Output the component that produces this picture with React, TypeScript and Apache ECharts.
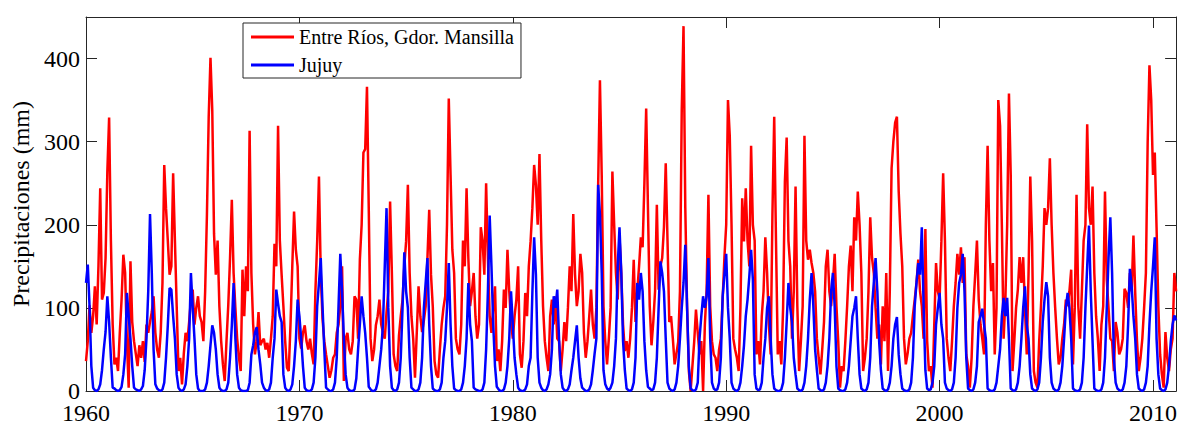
import React, { useEffect, useRef } from "react";
import * as echarts from "echarts";

const startYear = 1960;
const seriesNames = ["Entre Ríos, Gdor. Mansilla", "Jujuy"];
const xTickYears = [1960, 1970, 1980, 1990, 2000, 2010];
const yTickValues = [0, 100, 200, 300, 400];

// Entre Ríos, Gdor. Mansilla — monthly precipitation (mm), Jan..Dec per row
const entreRios1960s = [
  36, 60, 103, 70, 90, 126, 80, 150, 244, 110, 118, 160,
  264, 329, 181, 80, 32, 40, 24, 70, 110, 164, 142, 60,
  4, 156, 83, 60, 45, 30, 55, 40, 60, 35, 80, 70,
  83, 95, 114, 70, 50, 40, 70, 130, 272, 220, 181, 140,
  150, 262, 181, 102, 24, 40, 8, 45, 70, 60, 83, 110,
  122, 80, 100, 114, 90, 83, 60, 120, 212, 330, 401, 338,
  189, 140, 181, 102, 60, 32, 12, 60, 103, 160, 230, 142,
  100, 63, 40, 24, 146, 90, 150, 120, 313, 142, 80, 44,
  60, 95, 55, 60, 63, 50, 58, 40, 63, 90, 177, 150,
  319, 181, 140, 102, 60, 28, 24, 80, 150, 216, 170, 150,
];
const entreRios1970s = [
  63, 51, 70, 79, 60, 50, 63, 45, 32, 120, 180, 258,
  142, 87, 60, 44, 30, 16, 25, 40, 44, 70, 80, 102,
  150, 12, 63, 70, 50, 44, 60, 114, 110, 63, 158, 200,
  287, 291, 366, 220, 63, 36, 50, 79, 90, 110, 80, 70,
  63, 95, 120, 228, 142, 44, 30, 24, 67, 90, 110, 150,
  180, 248, 142, 90, 63, 16, 70, 126, 90, 71, 85, 102,
  160, 218, 140, 102, 36, 20, 16, 50, 80, 100, 114, 200,
  352, 260, 170, 142, 63, 50, 44, 80, 181, 150, 244, 160,
  102, 120, 142, 90, 63, 80, 197, 181, 140, 250, 160, 90,
  70, 100, 126, 36, 50, 24, 60, 122, 100, 170, 120, 83,
];
const entreRios1980s = [
  63, 90, 110, 150, 44, 28, 60, 118, 90, 150, 180, 220,
  272, 248, 200, 285, 181, 102, 60, 40, 24, 90, 110, 80,
  114, 63, 60, 24, 50, 83, 60, 100, 150, 120, 213, 140,
  102, 120, 165, 142, 70, 40, 60, 90, 122, 80, 63, 100,
  248, 374, 260, 102, 60, 32, 63, 100, 264, 200, 142, 110,
  185, 142, 80, 48, 60, 40, 63, 100, 158, 83, 120, 150,
  185, 173, 250, 340, 220, 102, 55, 83, 120, 224, 122, 150,
  160, 197, 274, 181, 83, 90, 63, 32, 45, 59, 120, 338,
  439, 220, 102, 24, 0, 30, 59, 98, 70, 44, 60, 0,
  80, 122, 236, 102, 60, 44, 40, 24, 50, 63, 110, 161,
];
const entreRios1990s = [
  200, 350, 307, 200, 63, 50, 40, 24, 100, 232, 180, 244,
  181, 150, 295, 200, 181, 44, 60, 32, 90, 120, 185, 142,
  80, 44, 213, 330, 181, 44, 60, 32, 100, 252, 305, 181,
  150, 63, 120, 246, 102, 24, 60, 102, 307, 181, 158, 170,
  154, 142, 120, 63, 40, 20, 50, 83, 150, 170, 120, 102,
  130, 165, 102, 60, 4, 30, 24, 60, 102, 150, 175, 120,
  209, 181, 240, 200, 142, 24, 40, 63, 120, 209, 160, 142,
  100, 63, 80, 32, 102, 60, 142, 24, 122, 268, 300, 323,
  330, 240, 189, 150, 63, 32, 45, 63, 70, 91, 110, 130,
  158, 120, 102, 63, 195, 60, 24, 30, 4, 80, 154, 120,
];
const entreRios2000s = [
  110, 180, 262, 181, 63, 40, 24, 60, 102, 130, 165, 140,
  173, 130, 161, 44, 30, 4, 40, 102, 140, 181, 110, 80,
  63, 44, 200, 295, 181, 120, 154, 44, 100, 350, 319, 200,
  63, 110, 200, 358, 260, 24, 60, 100, 122, 161, 130, 161,
  100, 44, 140, 258, 181, 24, 10, 4, 60, 102, 150, 220,
  200, 220, 280, 200, 142, 100, 63, 32, 40, 63, 80, 110,
  102, 120, 146, 32, 100, 236, 102, 63, 120, 181, 200, 321,
  220, 200, 246, 142, 90, 63, 24, 80, 102, 240, 134, 100,
  63, 60, 24, 83, 70, 44, 50, 63, 123, 118, 100, 142,
  120, 187, 118, 60, 24, 40, 63, 100, 142, 299, 392, 350,
];
const entreRios2010s = [
  260, 287, 197, 102, 44, 20, 4, 71, 40, 24, 50, 63,
  142, 120,
];

// Jujuy — monthly precipitation (mm), Jan..Dec per row
const jujuy1960s = [
  130, 152, 102, 30, 4, 1, 0, 2, 8, 25, 50, 71,
  114, 83, 40, 4, 3, 1, 0, 1, 5, 20, 44, 118,
  90, 63, 30, 4, 2, 1, 0, 2, 6, 25, 63, 120,
  213, 142, 50, 8, 3, 1, 0, 2, 10, 40, 79, 124,
  122, 90, 63, 20, 4, 1, 0, 2, 8, 30, 63, 142,
  100, 63, 20, 3, 0, 0, 0, 2, 10, 30, 55, 79,
  70, 50, 20, 4, 1, 0, 0, 2, 10, 40, 79, 130,
  63, 20, 4, 1, 0, 0, 0, 1, 10, 44, 55, 70,
  77, 50, 32, 10, 4, 1, 0, 2, 10, 40, 63, 122,
  105, 90, 83, 20, 4, 1, 0, 2, 8, 30, 60, 110,
];
const jujuy1970s = [
  90, 63, 30, 4, 1, 0, 0, 2, 10, 40, 102, 130,
  160, 102, 50, 4, 2, 0, 0, 2, 10, 40, 102, 165,
  120, 63, 20, 4, 1, 0, 0, 2, 15, 50, 80, 114,
  90, 70, 40, 5, 2, 0, 0, 2, 10, 30, 50, 80,
  150, 220, 100, 30, 4, 1, 0, 2, 10, 40, 100, 167,
  120, 100, 40, 4, 2, 0, 0, 2, 10, 40, 100, 130,
  160, 80, 30, 3, 1, 0, 0, 2, 10, 40, 60, 100,
  154, 80, 30, 3, 1, 0, 0, 2, 10, 30, 63, 130,
  80, 60, 4, 2, 1, 0, 0, 2, 10, 50, 120, 211,
  150, 80, 30, 5, 2, 0, 0, 2, 10, 30, 63, 120,
];
const jujuy1980s = [
  80, 40, 20, 4, 1, 0, 0, 2, 8, 30, 40, 118,
  185, 140, 40, 10, 4, 1, 0, 2, 8, 20, 50, 114,
  100, 122, 63, 20, 4, 1, 0, 2, 8, 25, 40, 60,
  79, 40, 15, 4, 2, 0, 0, 2, 8, 25, 45, 63,
  248, 213, 142, 25, 8, 3, 1, 4, 10, 30, 63, 150,
  197, 142, 60, 25, 3, 1, 0, 2, 10, 40, 130, 110,
  142, 120, 60, 25, 5, 3, 1, 2, 10, 40, 100, 156,
  142, 120, 63, 10, 3, 1, 0, 2, 10, 30, 63, 100,
  130, 176, 100, 30, 3, 1, 0, 2, 10, 63, 90, 114,
  100, 114, 160, 63, 10, 3, 1, 2, 10, 40, 114, 140,
];
const jujuy1990s = [
  165, 100, 63, 10, 3, 1, 0, 2, 10, 30, 55, 90,
  110, 138, 170, 134, 20, 3, 1, 2, 10, 40, 63, 100,
  114, 63, 20, 3, 1, 0, 0, 2, 10, 40, 83, 130,
  100, 83, 40, 20, 3, 1, 0, 2, 10, 30, 63, 110,
  142, 102, 50, 25, 3, 1, 0, 2, 10, 30, 63, 120,
  142, 102, 30, 3, 1, 0, 0, 2, 10, 30, 60, 90,
  100, 114, 63, 20, 3, 1, 0, 2, 10, 40, 102, 130,
  160, 120, 60, 25, 3, 1, 0, 2, 10, 30, 63, 80,
  89, 44, 20, 3, 1, 0, 0, 2, 10, 40, 102, 130,
  154, 140, 197, 102, 25, 3, 1, 2, 10, 30, 80, 100,
];
const jujuy2000s = [
  118, 80, 63, 10, 3, 1, 0, 2, 10, 40, 100, 130,
  140, 165, 120, 40, 3, 1, 0, 2, 10, 30, 83, 90,
  99, 80, 63, 3, 1, 0, 0, 2, 10, 30, 50, 90,
  112, 90, 112, 63, 3, 1, 0, 2, 10, 30, 63, 100,
  126, 80, 63, 20, 3, 1, 0, 2, 10, 40, 83, 110,
  131, 114, 40, 10, 3, 1, 0, 2, 10, 30, 63, 100,
  118, 100, 63, 3, 1, 0, 0, 2, 10, 40, 100, 150,
  199, 120, 60, 3, 1, 0, 0, 2, 10, 40, 100, 160,
  209, 142, 40, 10, 3, 1, 0, 2, 10, 30, 80, 147,
  126, 90, 63, 20, 3, 1, 0, 2, 10, 30, 80, 120,
];
const jujuy2010s = [
  150, 185, 63, 20, 3, 1, 0, 2, 10, 30, 60, 80,
  91, 85,
];

const entreRios = [
  ...entreRios1960s, ...entreRios1970s, ...entreRios1980s,
  ...entreRios1990s, ...entreRios2000s, ...entreRios2010s,
];
const jujuy = [
  ...jujuy1960s, ...jujuy1970s, ...jujuy1980s,
  ...jujuy1990s, ...jujuy2000s, ...jujuy2010s,
];

function toPairs(values: number[]) {
  return values.map((v, i) => [startYear + i / 12, v]);
}

export default function App() {
  const ref = useRef<HTMLDivElement>(null);

  useEffect(() => {
    document.body.style.margin = "0";
    const chart = echarts.init(ref.current as HTMLDivElement, null, { renderer: "svg" });
    const font = "'Liberation Serif', 'Times New Roman', serif";
    const axisColor = "#262626";
    const xMin = xTickYears[0];
    const xMax = 2011 + 1 / 12;
    const yMax = 450;

    const axisLine = { show: true, onZero: false, lineStyle: { color: axisColor, width: 1 } };
    const axisTick = { show: true, inside: true, length: 11, lineStyle: { color: axisColor, width: 1 } };

    chart.setOption({
      animation: false,
      backgroundColor: "#ffffff",
      grid: { left: 86, top: 17, width: 1091, height: 380, containLabel: false },
      legend: {
        orient: "vertical",
        left: 243,
        top: 23,
        padding: [4, 7, 3, 8],
        itemGap: 8,
        itemWidth: 43,
        itemHeight: 3,
        icon: "rect",
        borderColor: axisColor,
        borderWidth: 1,
        borderRadius: 0,
        backgroundColor: "#ffffff",
        textStyle: { fontFamily: font, fontSize: 20, color: "#000000" },
        data: seriesNames,
        z: 10,
      },
      xAxis: [
        {
          type: "value",
          position: "bottom",
          min: xMin,
          max: xMax,
          interval: 10,
          axisLine,
          axisTick,
          splitLine: { show: false },
          axisLabel: {
            fontFamily: font,
            fontSize: 24,
            lineHeight: 18,
            color: "#000000",
            margin: 13,
            showMaxLabel: false,
            formatter: (v: number) => (xTickYears.includes(Math.round(v * 1000) / 1000) ? String(v) : ""),
          },
        },
        {
          type: "value",
          position: "top",
          min: xMin,
          max: xMax,
          interval: 10,
          axisLine,
          axisTick,
          splitLine: { show: false },
          axisLabel: { show: false },
        },
      ],
      yAxis: [
        {
          type: "value",
          position: "left",
          min: 0,
          max: yMax,
          interval: 100,
          axisLine,
          axisTick,
          splitLine: { show: false },
          name: "Precipitaciones (mm)",
          nameLocation: "middle",
          nameRotate: 90,
          nameGap: 47,
          nameTextStyle: { fontFamily: font, fontSize: 24, color: "#000000" },
          axisLabel: {
            fontFamily: font,
            fontSize: 24,
            lineHeight: 18,
            color: "#000000",
            margin: 6,
            showMaxLabel: false,
            formatter: (v: number) => (yTickValues.includes(v) ? String(v) : ""),
          },
        },
        {
          type: "value",
          position: "right",
          min: 0,
          max: yMax,
          interval: 100,
          axisLine,
          axisTick,
          splitLine: { show: false },
          axisLabel: { show: false },
        },
      ],
      series: [
        {
          name: seriesNames[0],
          type: "line",
          xAxisIndex: 0,
          yAxisIndex: 0,
          data: toPairs(entreRios),
          showSymbol: false,
          symbol: "none",
          color: "#ff0000",
          lineStyle: { color: "#ff0000", width: 2.5 },
          clip: true,
          z: 2,
        },
        {
          name: seriesNames[1],
          type: "line",
          xAxisIndex: 0,
          yAxisIndex: 0,
          data: toPairs(jujuy),
          showSymbol: false,
          symbol: "none",
          color: "#0000ff",
          lineStyle: { color: "#0000ff", width: 2.5 },
          clip: true,
          z: 3,
        },
      ],
    });

    return () => chart.dispose();
  }, []);

  return <div ref={ref} style={{ width: 1180, height: 425 }} />;
}
